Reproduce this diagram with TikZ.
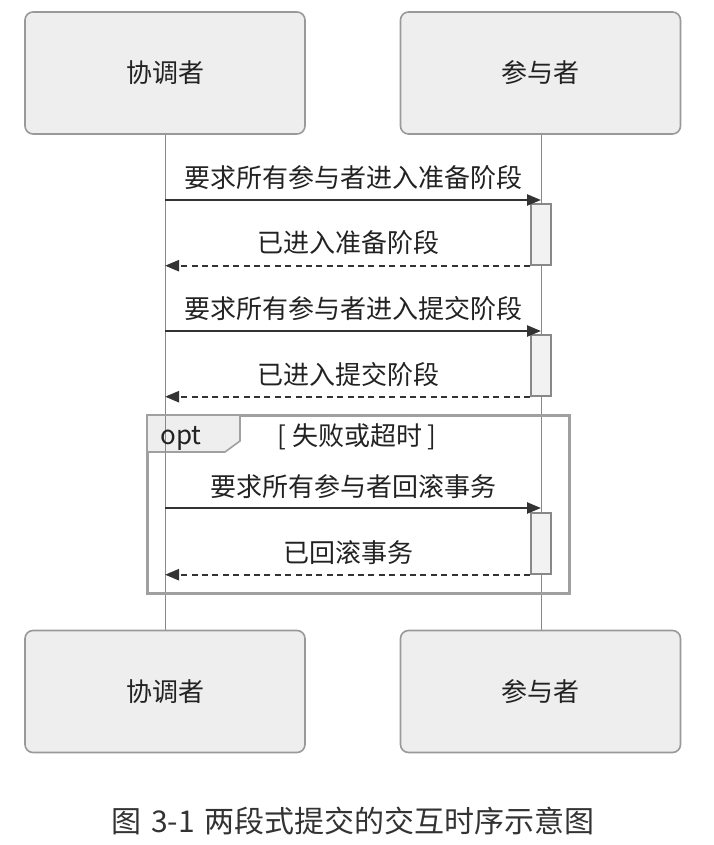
\documentclass[tikz,border=0pt]{standalone}
\usepackage{fontspec}
\newfontfamily\cjk{Noto Sans CJK SC}
\usetikzlibrary{arrows.meta, positioning}
\definecolor{seqfill}{RGB}{238, 238, 238}
\definecolor{seqact}{RGB}{242, 242, 242}
\definecolor{seqborder}{RGB}{153, 153, 153}
\definecolor{seqline}{RGB}{136, 136, 136}
\definecolor{seqtext}{RGB}{34, 34, 34}
\definecolor{seqarrow}{RGB}{51, 51, 51}
\definecolor{seqframe}{RGB}{160, 160, 160}

\begin{document}
\begin{tikzpicture}[
    x=0.5pt, y=-0.5pt,
    >={Triangle[length=7pt, width=5.5pt]},
    every node/.style={font=\cjk\fontsize{13}{15}\selectfont, text=seqtext},
    participant/.style={draw=seqborder, fill=seqfill, line width=0.8pt,
        rounded corners=4pt, minimum width=140pt, minimum height=61pt, inner sep=0pt},
    activation/.style={draw=seqline, fill=seqact, line width=0.7pt,
        minimum width=10pt, minimum height=30.5pt, inner sep=0pt},
    lifeline/.style={seqline, line width=0.5pt},
    msg/.style={->, seqarrow, line width=1.2pt},
    reply/.style={->, seqarrow, line width=1.2pt, dash pattern=on 3pt off 2.2pt},
    msglabel/.style={inner sep=1pt}
]
\useasboundingbox (0,0) rectangle (713,845);

% =============================================
% Lifelines
% =============================================
\coordinate (coord line) at (165,134);
\coordinate (part line) at (541,134);
\draw[lifeline] (coord line) -- (165,631);
\draw[lifeline] (part line) -- (541,631);

% =============================================
% opt frame
% =============================================
\draw[seqframe, line width=1.5pt] (147,415) rectangle (569,593);
\filldraw[fill=seqfill, draw=seqframe, line width=0.8pt]
    (147,415) -- (240,415) -- (240,441) -- (225,452) -- (147,452) -- cycle;
\draw[lifeline] (165,416) -- (165,452);
\node[anchor=base] (opt) at (181,444) {opt};
\node (guard) at (357,437) {[ 失败或超时 ]};

% =============================================
% Participants
% =============================================
\node[participant] (coord top) at (165,73) {协调者};
\node[participant] (part top) at (540.5,73) {参与者};
\node[participant] (coord bottom) at (165,691.5) {协调者};
\node[participant] (part bottom) at (540.5,691.5) {参与者};

% =============================================
% Activations
% =============================================
\node[activation] (act1) at (541,234.5) {};
\node[activation] (act2) at (541,365.5) {};
\node[activation] (act3) at (541,543.5) {};

% =============================================
% Messages
% =============================================
% Prepare phase
\coordinate (m1) at (165,200);
\draw[msg] (m1) -- (m1 -| act1.north);
\node[msglabel] (l1) at (353,178) {要求所有参与者进入准备阶段};
\draw[reply] (act1.south west) -- (act1.south west -| coord top.south);
\node[msglabel] (r1) at (348,243) {已进入准备阶段};

% Commit phase
\coordinate (m2) at (165,331);
\draw[msg] (m2) -- (m2 -| act2.north);
\node[msglabel] (l2) at (353,309) {要求所有参与者进入提交阶段};
\draw[reply] (act2.south west) -- (act2.south west -| coord top.south);
\node[msglabel] (r2) at (348,375) {已进入提交阶段};

% Rollback
\coordinate (m3) at (165,508);
\draw[msg] (m3) -- (m3 -| act3.north);
\node[msglabel] (l3) at (353,487) {要求所有参与者回滚事务};
\draw[reply] (act3.south west) -- (act3.south west -| coord top.south);
\node[msglabel] (r3) at (348,553) {已回滚事务};

% =============================================
% Caption
% =============================================
\node[font=\cjk\fontsize{15}{18}\selectfont, text=seqarrow] (caption) at (353,821)
    {图\,\,3-1\,\,两段式提交的交互时序示意图};

\end{tikzpicture}
\end{document}
